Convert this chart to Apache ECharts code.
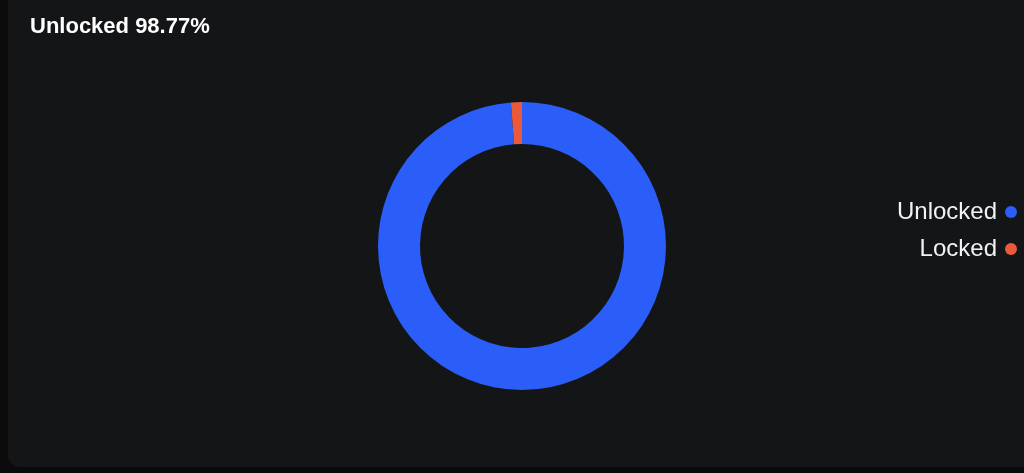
<!DOCTYPE html>
<html>
<head>
<meta charset="utf-8">
<script src="https://cdn.jsdelivr.net/npm/echarts@6/dist/echarts.min.js"></script>
<style>
  html, body { margin: 0; padding: 0; background: #0b0b0c; overflow: hidden; }
  #card { position: absolute; left: 8px; top: -12px; width: 1030px; height: 479px; background: #141517; border-radius: 12px; }
  #main { position: absolute; left: 0; top: 0; width: 1024px; height: 473px; }
</style>
</head>
<body>
<div id="card"></div>
<div id="main"></div>
<script>
var names = ['Unlocked', 'Locked'];
var values = [98.77, 1.23];
var colors = ['#2b5ef8', '#ea5a3a'];

var chart = echarts.init(document.getElementById('main'));

var seriesData = names.map(function (n, i) {
  return { name: n, value: values[i] };
});

var option = {
  backgroundColor: 'transparent',
  color: colors,
  animation: false,
  title: {
    text: 'Unlocked ' + values[0].toFixed(2) + '%',
    left: 25,
    top: 11,
    textStyle: {
      color: '#ffffff',
      fontSize: 22,
      fontWeight: 'bold',
      fontFamily: 'Liberation Sans, Arial, sans-serif'
    }
  },
  legend: {
    orient: 'vertical',
    right: 2,
    top: 195,
    align: 'right',
    icon: 'circle',
    itemWidth: 12,
    itemHeight: 12,
    itemGap: 13,
    textStyle: {
      color: '#f2f2f2',
      fontSize: 24,
      padding: [0, 3, 0, 0],
      fontFamily: 'Liberation Sans, Arial, sans-serif'
    },
    data: names
  },
  series: [
    {
      name: 'Status',
      type: 'pie',
      center: [522, 246],
      radius: [102, 144],
      startAngle: 90,
      clockwise: true,
      label: { show: false },
      labelLine: { show: false },
      itemStyle: { borderWidth: 0 },
      data: seriesData
    }
  ]
};

chart.setOption(option);
</script>
</body>
</html>
